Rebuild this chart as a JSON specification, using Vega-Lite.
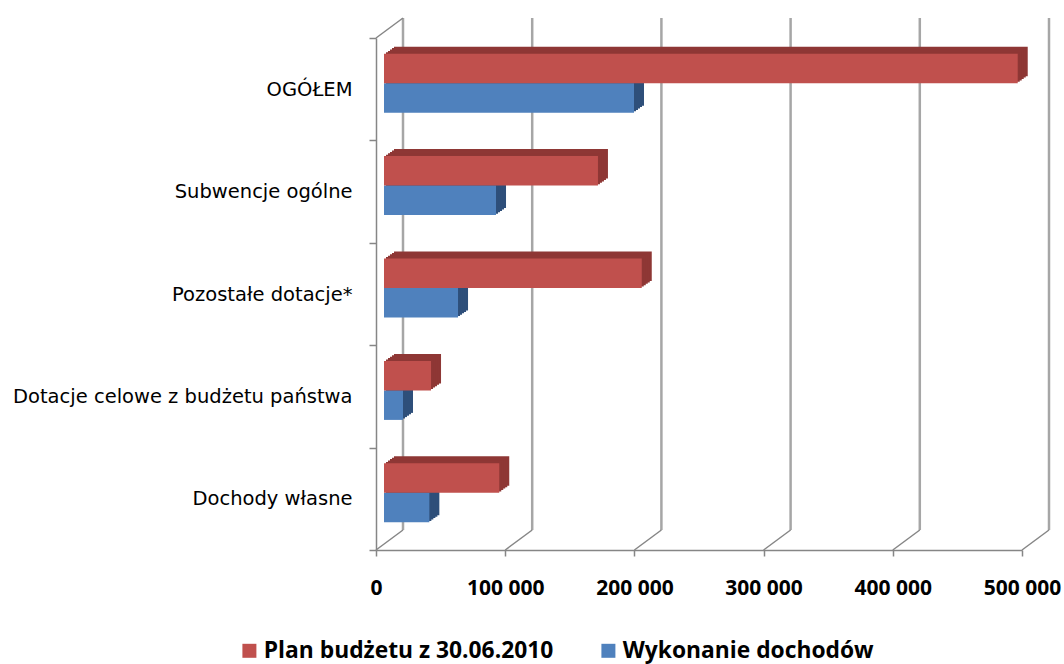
{
  "$schema": "https://vega.github.io/schema/vega-lite/v6.json",
  "width": 646,
  "height": 512,
  "autosize": {"type": "none"},
  "padding": {"left": 376, "top": 38, "right": 42, "bottom": 114},
  "background": "white",
  "config": {"view": {"stroke": null}},
  "datasets": {
    "budget": [
      {"kategoria": "OGÓŁEM", "seria": "Plan budżetu z 30.06.2010", "wartosc": 490500},
      {"kategoria": "OGÓŁEM", "seria": "Wykonanie dochodów", "wartosc": 193500},
      {"kategoria": "Subwencje ogólne", "seria": "Plan budżetu z 30.06.2010", "wartosc": 165600},
      {"kategoria": "Subwencje ogólne", "seria": "Wykonanie dochodów", "wartosc": 86700},
      {"kategoria": "Pozostałe dotacje*", "seria": "Plan budżetu z 30.06.2010", "wartosc": 199500},
      {"kategoria": "Pozostałe dotacje*", "seria": "Wykonanie dochodów", "wartosc": 57300},
      {"kategoria": "Dotacje celowe z budżetu państwa", "seria": "Plan budżetu z 30.06.2010", "wartosc": 36400},
      {"kategoria": "Dotacje celowe z budżetu państwa", "seria": "Wykonanie dochodów", "wartosc": 14700},
      {"kategoria": "Dochody własne", "seria": "Plan budżetu z 30.06.2010", "wartosc": 89200},
      {"kategoria": "Dochody własne", "seria": "Wykonanie dochodów", "wartosc": 35100}
    ],
    "ticks": [{"v": 0}, {"v": 100000}, {"v": 200000}, {"v": 300000}, {"v": 400000}, {"v": 500000}]
  },
  "layer": [
    {
      "data": {"name": "ticks"},
      "mark": {"type": "rule", "color": "#A6A6A6", "strokeWidth": 2.5, "xOffset": 27, "yOffset": -20, "y2Offset": -20},
      "encoding": {
        "x": {"field": "v", "type": "quantitative", "axis": {"title": null}, "scale": {"domain": [0, 500000], "nice": false}},
        "y": {"value": 0},
        "y2": {"value": "height"}
      }
    },
    {
      "data": {"name": "ticks"},
      "mark": {"type": "rule", "color": "#868686", "strokeWidth": 1.5, "x2Offset": 27, "y2Offset": -20},
      "encoding": {
        "x": {"field": "v", "type": "quantitative", "axis": {"title": null}, "scale": {"domain": [0, 500000], "nice": false}},
        "x2": {"field": "v"},
        "y": {"value": "height"},
        "y2": {"value": "height"}
      }
    },
    {
      "data": {"name": "ticks"},
      "transform": [{"filter": "datum.v === 0"}],
      "mark": {"type": "rule", "color": "#868686", "strokeWidth": 1.5, "x2Offset": 27, "y2Offset": -20},
      "encoding": {
        "x": {"field": "v", "type": "quantitative", "axis": {"title": null}, "scale": {"domain": [0, 500000], "nice": false}},
        "x2": {"field": "v"},
        "y": {"value": 0},
        "y2": {"value": 0}
      }
    },
    {
      "data": {"name": "budget"},
      "encoding": {
        "y": {
          "field": "kategoria",
          "type": "nominal",
          "sort": ["OGÓŁEM", "Subwencje ogólne", "Pozostałe dotacje*", "Dotacje celowe z budżetu państwa", "Dochody własne"],
          "scale": {"paddingInner": 0, "paddingOuter": 0},
          "axis": {
            "title": null,
            "tickBand": "extent",
            "grid": false,
            "domainColor": "#868686",
            "domainWidth": 1.5,
            "tickColor": "#868686",
            "tickWidth": 1.5,
            "tickSize": 7,
            "labelFont": "DejaVu Sans",
            "labelFontSize": 19.5,
            "labelColor": "#000000",
            "labelPadding": 17,
            "labelLimit": 400
          }
        },
        "x": {
          "field": "wartosc",
          "type": "quantitative",
          "scale": {"domain": [0, 500000], "nice": false},
          "axis": {
            "title": null,
            "values": [0, 100000, 200000, 300000, 400000, 500000],
            "grid": false,
            "domain": true,
            "ticks": true,
            "labels": true,
            "domainColor": "#868686",
            "domainWidth": 1.5,
            "tickColor": "#868686",
            "tickWidth": 1.5,
            "tickSize": 6,
            "labelFont": "Open Sans",
            "labelFontWeight": "bold",
            "labelFontSize": 21,
            "labelColor": "#000000",
            "labelPadding": 21,
            "labelFlush": false,
            "labelOverlap": false,
            "labelExpr": "replace(format(datum.value, ','), ',', ' ')"
          }
        }
      },
      "layer": [
        {"transform": [{"filter": "datum.seria === 'Wykonanie dochodów'"}], "mark": {"type": "bar", "color": "#2E4F7A", "height": 29.5, "xOffset": 18, "x2Offset": 18, "yOffset": 1.75}},
        {"transform": [{"filter": "datum.seria === 'Wykonanie dochodów'"}], "mark": {"type": "bar", "color": "#2E4F7A", "height": 29.5, "xOffset": 16, "x2Offset": 16, "yOffset": 3.15}},
        {"transform": [{"filter": "datum.seria === 'Wykonanie dochodów'"}], "mark": {"type": "bar", "color": "#2E4F7A", "height": 29.5, "xOffset": 14, "x2Offset": 14, "yOffset": 4.55}},
        {"transform": [{"filter": "datum.seria === 'Wykonanie dochodów'"}], "mark": {"type": "bar", "color": "#2E4F7A", "height": 29.5, "xOffset": 12, "x2Offset": 12, "yOffset": 5.95}},
        {"transform": [{"filter": "datum.seria === 'Wykonanie dochodów'"}], "mark": {"type": "bar", "color": "#2E4F7A", "height": 29.5, "xOffset": 10, "x2Offset": 10, "yOffset": 7.35}},
        {
          "transform": [{"filter": "datum.seria === 'Wykonanie dochodów'"}],
          "mark": {"type": "bar", "height": 29.5, "xOffset": 8, "x2Offset": 8, "yOffset": 8.75},
          "encoding": {
            "color": {
              "field": "seria",
              "type": "nominal",
              "scale": {"domain": ["Plan budżetu z 30.06.2010", "Wykonanie dochodów"], "range": ["#C0504D", "#4F81BD"]},
              "legend": {
                "orient": "none",
                "legendX": -138,
                "legendY": 601,
                "direction": "horizontal",
                "title": null,
                "symbolType": "square",
                "symbolSize": 196,
                "symbolStrokeWidth": 0,
                "labelFont": "Open Sans",
                "labelFontWeight": "bold",
                "labelFontSize": 22.8,
                "labelColor": "#000000",
                "labelOffset": 3,
                "labelLimit": 400,
                "columnPadding": 43,
                "padding": 0
              }
            }
          }
        },
        {"transform": [{"filter": "datum.seria === 'Plan budżetu z 30.06.2010'"}], "mark": {"type": "bar", "color": "#8E3735", "height": 29.5, "xOffset": 18, "x2Offset": 18, "yOffset": -27.75}},
        {"transform": [{"filter": "datum.seria === 'Plan budżetu z 30.06.2010'"}], "mark": {"type": "bar", "color": "#8E3735", "height": 29.5, "xOffset": 16, "x2Offset": 16, "yOffset": -26.35}},
        {"transform": [{"filter": "datum.seria === 'Plan budżetu z 30.06.2010'"}], "mark": {"type": "bar", "color": "#8E3735", "height": 29.5, "xOffset": 14, "x2Offset": 14, "yOffset": -24.95}},
        {"transform": [{"filter": "datum.seria === 'Plan budżetu z 30.06.2010'"}], "mark": {"type": "bar", "color": "#8E3735", "height": 29.5, "xOffset": 12, "x2Offset": 12, "yOffset": -23.55}},
        {"transform": [{"filter": "datum.seria === 'Plan budżetu z 30.06.2010'"}], "mark": {"type": "bar", "color": "#8E3735", "height": 29.5, "xOffset": 10, "x2Offset": 10, "yOffset": -22.15}},
        {
          "transform": [{"filter": "datum.seria === 'Plan budżetu z 30.06.2010'"}],
          "mark": {"type": "bar", "height": 29.5, "xOffset": 8, "x2Offset": 8, "yOffset": -20.75},
          "encoding": {
            "color": {
              "field": "seria",
              "type": "nominal",
              "scale": {"domain": ["Plan budżetu z 30.06.2010", "Wykonanie dochodów"], "range": ["#C0504D", "#4F81BD"]},
              "legend": {
                "orient": "none",
                "legendX": -138,
                "legendY": 601,
                "direction": "horizontal",
                "title": null,
                "symbolType": "square",
                "symbolSize": 196,
                "symbolStrokeWidth": 0,
                "labelFont": "Open Sans",
                "labelFontWeight": "bold",
                "labelFontSize": 22.8,
                "labelColor": "#000000",
                "labelOffset": 3,
                "labelLimit": 400,
                "columnPadding": 43,
                "padding": 0
              }
            }
          }
        }
      ]
    }
  ]
}
